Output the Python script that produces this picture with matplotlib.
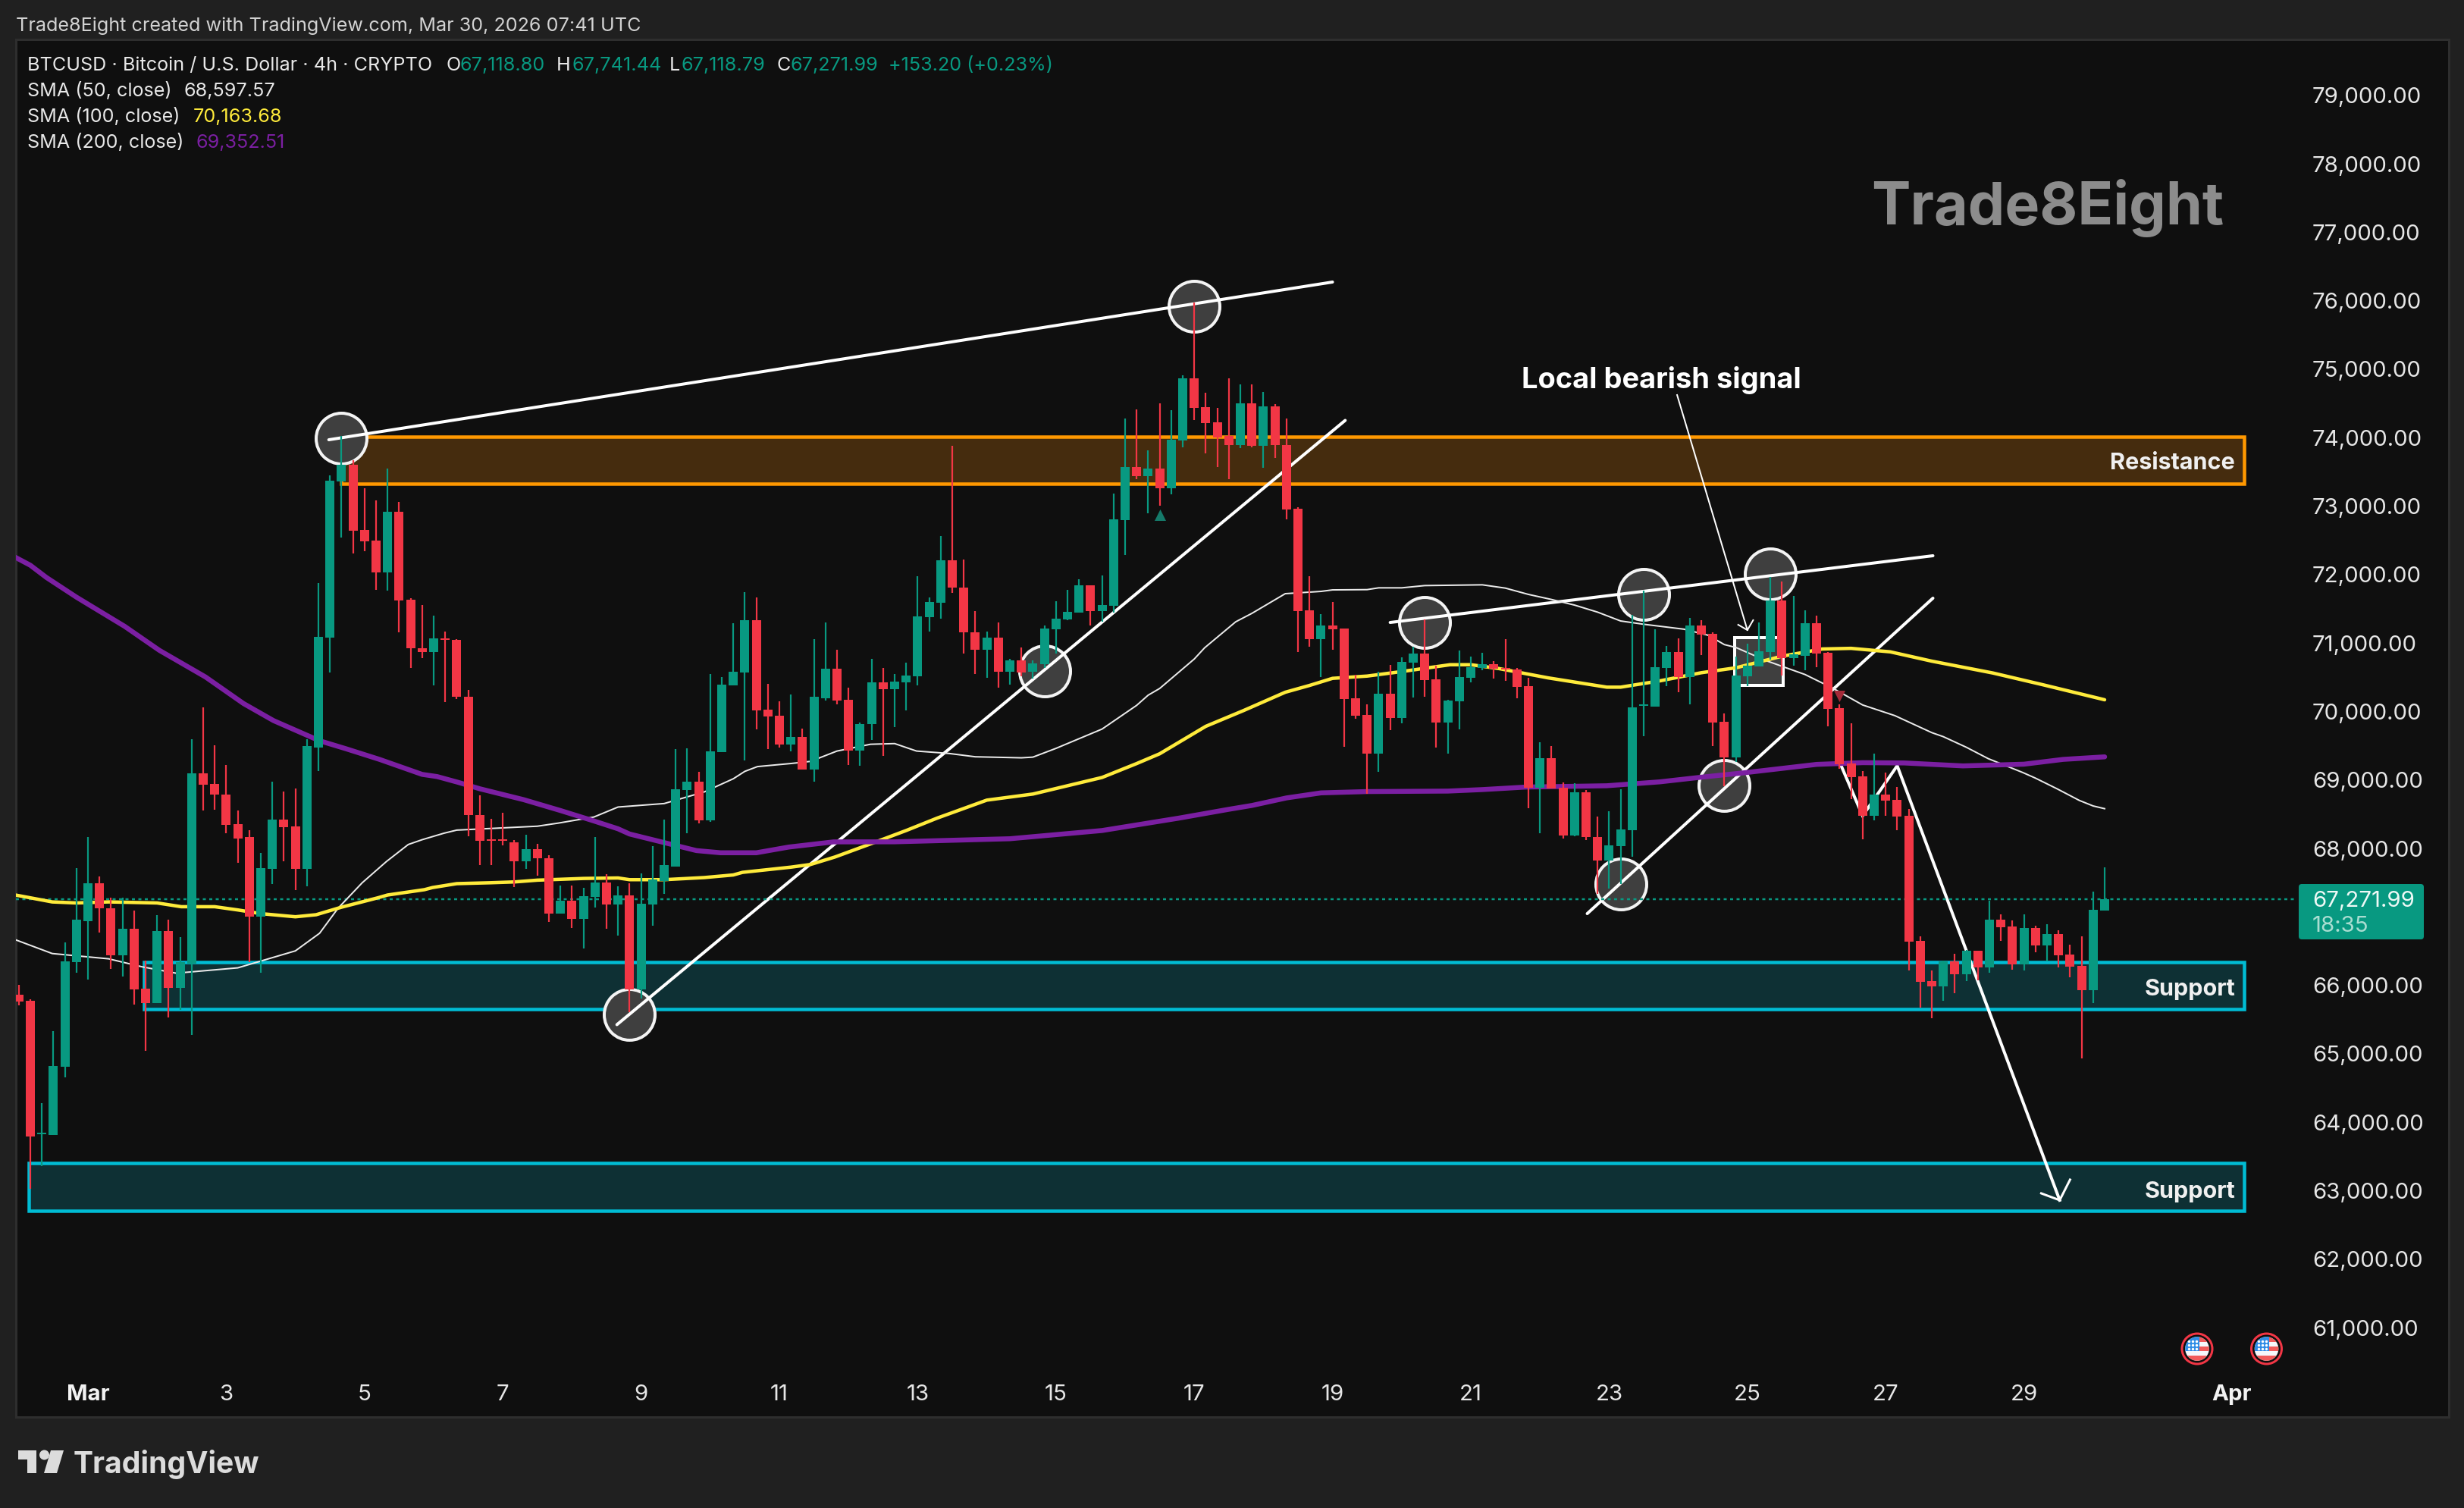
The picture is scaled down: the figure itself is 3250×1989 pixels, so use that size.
import matplotlib
matplotlib.use("Agg")
import matplotlib.pyplot as plt
from matplotlib.patches import Circle, Rectangle, Polygon, FancyBboxPatch
from matplotlib.transforms import Affine2D

# ---------- data ----------
first_index = -6   # first bar, in 4h bars counted from Mar 1 00:00
opens = [65850,65760,63810,63800,64800,66330,
66930,67480,67110,66430,66820,65940,65730,66780,65950,66310,
69090,68930,68780,68340,68150,66990,67690,68410,68310,67690,
69460,71070,73350,73590,72640,72480,72020,72910,71620,70910,
70860,71060,71030,70200,68480,68120,68110,68080,67800,67980,
67840,67040,67230,66960,67280,67490,67170,67300,65930,67170,
67510,67720,68840,68960,68400,69400,70370,70560,71320,70020,
69930,69510,69620,69140,70180,70610,70160,69420,69800,70410,
70310,70410,70500,71370,71580,72200,71800,71140,70890,71070,
70570,70740,70570,70680,71190,71330,71430,71830,71460,71530,
72780,73560,73430,73540,73250,73950,74860,74430,74210,74010,
73880,74490,73870,74450,73880,72950,71470,71050,71240,71200,
70180,69940,69370,70250,69890,70700,70840,70460,69830,70140,
70480,70620,70680,70620,70600,70360,68870,69310,68870,68180,
68810,68160,67810,68020,68250,70070,70060,70620,70860,70490,
71250,71120,69840,69320,70500,70650,70860,71610,70770,70800,
71280,70850,70040,69230,69040,68470,68780,68700,68460,66640,
66050,65970,66340,66150,66490,66250,66950,66850,66290,66830,
66570,66740,66440,66270,65920,67080]
closes = [65750,63780,63830,64810,66340,66950,
67480,67110,66430,66820,65930,65730,66780,65950,66330,69090,
68920,68780,68330,68130,66990,67700,68410,68300,67690,69480,
71080,73360,73590,72630,72470,72020,72910,71610,70910,70860,
71060,71030,70200,68480,68100,68100,68100,67800,67980,67840,
67040,67230,66960,67290,67490,67170,67300,65930,67180,67530,
67740,68850,68960,68400,69410,70380,70570,71320,70000,69920,
69510,69620,69140,70200,70610,70150,69420,69810,70410,70310,
70420,70510,71380,71590,72200,71800,71140,70890,71070,70570,
70740,70560,70690,71200,71340,71440,71830,71460,71540,72800,
73560,73430,73540,73250,73960,74860,74420,74200,73990,73880,
74490,73870,74450,73880,72940,71460,71050,71240,71190,70170,
69930,69370,70250,69890,70710,70840,70450,69830,70150,70490,
70640,70680,70610,70600,70350,68870,69310,68860,68180,68810,
68150,67810,68030,68270,70050,70080,70640,70860,70490,71250,
71110,69830,69320,70510,70660,70870,71610,70770,70820,71280,
70840,70030,69220,69030,68470,68780,68690,68450,66630,66040,
65970,66340,66150,66490,66250,66950,66840,66290,66830,66570,
66740,66430,66260,65920,67090,67250]
highs = [65990,65790,64270,65320,66620,67700,
68150,67580,67270,67270,67080,66350,67010,66950,66690,69580,
70050,69500,69210,68540,68260,67920,68960,68820,68860,69580,
71870,73440,74010,73660,73250,73070,73540,73050,71640,71540,
71390,71160,71050,70300,68760,68420,68510,68110,68190,68050,
67890,67450,67450,67410,68150,67610,67440,67480,67620,68020,
68410,69440,69450,69110,70540,70490,71280,71730,71660,70390,
70140,70240,69740,71050,71290,70890,70340,69830,70760,70630,
70540,70700,71970,71650,72550,73870,72210,71460,71160,71290,
70760,70920,70730,71240,71600,71770,71920,71830,71980,73170,
74270,74400,73800,74490,74390,74900,75960,74650,74420,74850,
74770,74770,74660,74480,74270,72970,71960,71410,71590,71200,
70520,70090,70570,70670,70780,70930,71330,70660,70160,70880,
70790,70850,70720,71050,70620,70480,69540,69480,68950,68940,
68840,68450,68530,68850,71400,71750,71190,70950,71060,71360,
71320,71140,69960,70790,70980,71290,71950,71890,71680,71470,
71390,70860,70090,69820,69120,69370,69100,68890,68570,66700,
66210,66350,66450,66510,66490,67220,67030,66940,67030,66860,
66880,66790,66580,66700,67360,67710]
lows = [65700,63020,63350,63800,64640,66170,
66070,66760,66230,66120,65710,65030,65730,65520,65630,65270,
68540,68550,68210,67780,66330,66170,67470,67800,67380,67430,
69120,70560,72530,72300,72330,71770,71750,71150,70630,70770,
70370,70130,70170,68170,67740,67750,68030,67420,67690,67590,
66910,67040,66830,66530,67120,66810,66720,65600,65800,66860,
67320,67720,68210,68350,68380,69390,70370,69270,69730,69440,
69460,69410,69140,68960,70150,70090,69210,69200,69570,69340,
69760,70000,70370,71160,71350,71720,70830,70540,70480,70340,
70380,70500,70470,70620,70840,71320,71430,71250,71300,71430,
72270,73380,72880,73000,73160,73850,74250,73760,73560,73380,
73840,73850,73550,73690,72800,70860,70930,70490,70890,69470,
69880,68790,69110,69720,69820,70190,70200,69460,69370,69730,
70410,70590,70470,70440,70180,68580,68210,68860,68130,68170,
68110,67320,67400,67470,67870,69630,70060,70360,70270,70090,
70810,69480,68900,69250,70360,70650,70750,70510,70660,70590,
70640,69770,69150,68710,68120,68400,68470,68250,66210,65660,
65510,65760,65870,66050,66060,66170,66640,66220,66210,66470,
66340,66250,66110,64920,65730,67080]

sma50_x = [-6.3,-3.1,1.8,4.7,7.65,13,18,20.1,21.7,23.8,25.9,27.8,29,30.9,32,39,40.8,43.9,46,50,53.5,56,57,58.1,61,62.7,
           65,67.9,70,71.9,74.7,77,81,82,84,88,91,92,93,96,96.9,99.6,101,103.9,107,108,111,112,114,116,121,123,125,127,129,131,133,
           135,138.5,140.6,142,143,145.6,149,151.4,154,156.8,160,161,163,164.9,167.9,169,170.9,172.8,174,175]
sma50_y = [66655,66453,66376,66259,66166,66244,66492,66749,67114,67487,67797,68046,68116,68211,68256,68313,68358,68447,68593,68644,68815,69006,69114,69184,69229,69260,
           69411,69510,69520,69411,69376,69327,69312,69322,69450,69732,70078,70227,70325,70755,70919,71299,71422,71710,71743,71765,71769,71795,71795,71828,71839,71791,71699,71625,71543,71440,71311,
           71263,71191,71102,70966,70924,70733,70529,70330,70084,69928,69680,69621,69466,69300,69097,69015,68857,68690,68609,68569]
sma100_x = [-6.3,-3.1,-1,1.8,6,8.1,11,13,15,18,19.8,22,25.2,26,29.2,29.9,32,34.9,37,39,43,46,47,50,53.5,56,56.8,61,62.7,64.8,68,71,
            73.7,75,78,82,88,91,93,97,100.3,103.9,106,108,111,114,118.2,120,122.4,126.7,131.8,133,136.4,140,143,147,150.5,153,156.4,160,165.3,169.6,175]
sma100_y = [67308,67207,67192,67207,67192,67137,67137,67090,67036,66990,67020,67130,67269,67308,67386,67417,67474,67487,67499,67525,67550,67557,67532,67532,67563,67601,67639,67715,67754,67862,68060,68250,
            68432,68511,68694,68783,69025,69228,69371,69772,70004,70270,70369,70473,70506,70572,70672,70672,70617,70480,70344,70344,70436,70555,70627,70796,70902,70911,70860,70724,70551,70381,70160]
sma200_x = [-6.3,-5,-3.6,-1,3.2,6.2,10.2,13.5,16.1,20.1,22.4,25.3,29,30.3,32.1,34,37.8,41,43.9,46,47,50.5,52.8,54.9,58,60.8,64.7,70,80,88,
            94.7,99,101,104,107,111,118,121,124.8,131.8,136.4,140,143.7,150,154,157.6,162.7,168,171.4,175]
sma200_y = [72241,72125,71946,71659,71231,70882,70493,70105,69856,69561,69444,69289,69070,69038,68955,68860,68701,68542,68390,68275,68199,68053,67957,67925,67925,68008,68084,68085,68130,68250,
            68432,68560,68616,68726,68800,68819,68826,68848,68885,68904,68961,69029,69093,69216,69241,69237,69194,69219,69289,69326]

price_ticks = list(range(61000, 80000, 1000))
price_ticks.remove(67000)
day_ticks = ["Mar", "3", "5", "7", "9", "11", "13", "15", "17", "19", "21", "23", "25", "27", "29", "Apr"]
day_numbers = [1, 3, 5, 7, 9, 11, 13, 15, 17, 19, 21, 23, 25, 27, 29, 32]

resistance_zone = (73316, 74003, 22.0)
support_zone_a = (65645, 66330, 4.9)
support_zone_b = (62695, 63390, -5.1)
zone_end = 187.1

touch_i = [22, 96, 83, 47, 116, 135, 146, 142, 133]
touch_p = [73980, 75908, 70580, 65564, 71289, 71699, 71998, 68903, 67468]
trend_lines = [([20.9, 108], [73958, 76262]),
               ([45.9, 109.1], [65414, 74241]),
               ([113, 160.1], [71289, 72264]),
               ([130.1, 160.1], [67036, 71644])]
path_i = [152, 154, 157, 171.1]
path_p = [69251, 68465, 69196, 62850]
path_head_i = [169.5, 171.1, 172]
path_head_p = [62950, 62850, 63150]
signal_i = [137.9, 144]
signal_p = [74612, 71178]
signal_head_i = [143.2, 144, 144.5]
signal_head_p = [71256, 71178, 71323]
signal_box = (142.9, 147.1, 70370, 71068)
last_price_level = 67250

# ---------- style ----------
W, H = 3250, 1990
BG, PANEL, EDGE = "#202020", "#0f0f0f", "#2e2e2e"
GREEN, RED = "#089981", "#f23645"
ORANGE, CYAN = "#ff9800", "#00bcd4"
FONT = "Inter"
plt.rcParams["font.family"] = [FONT, "DejaVu Sans"]
PT = 72 / 100  # one pixel, in points
TICK_SIZE = 21.2

fig = plt.figure(figsize=(W / 100, H / 100), dpi=100, facecolor=BG)
LEFT, RIGHT, TOP, BOTTOM = 21, 3230, 53, 1870
ax = fig.add_axes([LEFT / W, 1 - BOTTOM / H, (RIGHT - LEFT) / W, (BOTTOM - TOP) / H], facecolor=PANEL)
px = Affine2D().scale(1 / W, -1 / H).translate(0, 1) + fig.transFigure

# bar i sits at 116 + 15.2 i pixels; 1000 dollars span 90.29 pixels with 68000 at y=1119
ax.set_xlim((LEFT - 116) / 15.2, (RIGHT - 116) / 15.2)
ax.set_ylim(68000 - (BOTTOM - 1119) * 11.075, 68000 + (1119 - TOP) * 11.075)

for s in ax.spines.values():
    s.set_color(EDGE)
    s.set_linewidth(3 * PT)

# ticks, drawn inside the panel as TradingView does
ax.yaxis.tick_right()
ax.set_yticks(price_ticks)
ax.set_yticklabels([f"{v:,.2f}" for v in price_ticks], ha="left")
ax.tick_params(axis="y", length=0, pad=-(RIGHT - 3050) * PT, labelsize=TICK_SIZE, labelcolor="#e6e6e6")
ax.set_xticks([(d - 1) * 6 for d in day_numbers])
ax.set_xticklabels(day_ticks)
ax.tick_params(axis="x", length=0, pad=-44 * PT, labelsize=TICK_SIZE, labelcolor="#e6e6e6")
for lab in ax.get_xticklabels():
    if lab.get_text() in ("Mar", "Apr"):
        lab.set_fontweight("bold")
        lab.set_color("#f2f2f2")

# zones
for lo, hi, start, edge, fill, name, name_y in [
        (*resistance_zone, ORANGE, "#452c0e", "Resistance", 619),
        (*support_zone_a, CYAN, "#0e3034", "Support", 1313),
        (*support_zone_b, CYAN, "#0e3034", "Support", 1580)]:
    ax.add_patch(Rectangle((start, lo), zone_end - start, hi - lo, fc=fill, ec=edge, lw=4.5 * PT, zorder=1))
    ax.text(2948, name_y, name, transform=px, ha="right", va="baseline", color="#f0f0f0",
            fontsize=22, fontweight="bold", zorder=8)

# touch circles, box, hand-drawn lines
ax.add_patch(Rectangle((signal_box[0], signal_box[2]), signal_box[1] - signal_box[0], signal_box[3] - signal_box[2],
                       fc="#3f3f3f", ec="white", lw=4 * PT, zorder=2))
ax.scatter(touch_i, touch_p, s=(67 * PT) ** 2, facecolor="#3f3f3f", edgecolor="#f4f4f4",
           linewidths=4 * PT, zorder=2)
for xs, ys in trend_lines:
    ax.plot(xs, ys, color="white", lw=4 * PT, solid_capstyle="round", zorder=3)
ax.plot(path_i, path_p, color="white", lw=4 * PT, solid_joinstyle="miter", zorder=3)
ax.plot(path_head_i, path_head_p, color="white", lw=3 * PT, solid_joinstyle="miter", zorder=3)
ax.plot(signal_i, signal_p, color="white", lw=2 * PT, zorder=3)
ax.plot(signal_head_i, signal_head_p, color="white", lw=2 * PT, zorder=3)
ax.text(2007, 512, "Local bearish signal", transform=px, ha="left", va="baseline", color="white",
        fontsize=27.4, fontweight="bold", zorder=8)

# last price line
ax.plot([ax.get_xlim()[0], (3030 - 116) / 15.2], [last_price_level] * 2, color=GREEN, lw=2.5 * PT,
        ls=(0, (1.6, 1.8)), zorder=3)

# moving averages
ax.plot(sma50_x, sma50_y, color="#eaeaea", lw=2 * PT, zorder=4)
ax.plot(sma100_x, sma100_y, color="#ffeb3b", lw=4.5 * PT, zorder=4, solid_capstyle="round")
ax.plot(sma200_x, sma200_y, color="#7b1fa2", lw=6.5 * PT, zorder=4, solid_capstyle="round")

# candles
idx = [first_index + i for i in range(len(opens))]
colors = [GREEN if c >= o else RED for o, c in zip(opens, closes)]
ax.vlines(idx, lows, highs, colors=colors, lw=2.2 * PT, zorder=5)
ax.bar(idx, [max(abs(c - o), 25) for o, c in zip(opens, closes)],
       bottom=[min(o, c) for o, c in zip(opens, closes)], width=0.79, color=colors, lw=0, zorder=6)

# crossing marks
ax.scatter([93], [72862], marker="^", s=(15 * PT) ** 2, color="#157a6a", linewidths=0, zorder=6)
ax.scatter([152], [70215], marker="v", s=(15 * PT) ** 2, color="#a52a39", linewidths=0, zorder=6)

# watermark
ax.text(2468, 296, "Trade8Eight", transform=px, ha="left", va="baseline", color="#8c8c8c",
        fontsize=55.5, fontweight="bold", zorder=0.5)

# price label
ax.add_patch(FancyBboxPatch((3034, 1169), 161, 69, boxstyle="round,pad=2,rounding_size=4", transform=px,
                            fc=GREEN, ec="none", clip_on=False, zorder=7))
ax.text(3050, 1196, "67,271.99", transform=px, ha="left", va="baseline", color="#eef9f6", fontsize=TICK_SIZE, zorder=8)
ax.text(3050, 1229, "18:35", transform=px, ha="left", va="baseline", color="#a9ddd1", fontsize=TICK_SIZE, zorder=8)

# calendar flags
for cx in (2898, 2989.5):
    cy = 1780
    ax.add_patch(Circle((cx, cy), 20, transform=px, fc="none", ec=RED, lw=3 * PT, zorder=7))
    disc = Circle((cx, cy), 15.8, transform=px, fc="#f5f7fb", ec="none", zorder=7)
    ax.add_patch(disc)
    for y0, h, col, x0, w in [(-16, 6.5, "#f15b5b", 3, 14), (-3.5, 6.5, "#f15b5b", 3, 14),
                              (9, 7, "#f15b5b", -16, 32), (-16, 19, "#2f8ce6", -16, 19)]:
        r = Rectangle((cx + x0, cy + y0), w, h, transform=px, fc=col, ec="none", zorder=7.1)
        ax.add_patch(r)
        r.set_clip_path(disc)
    for dx in (-11, -6, -1):
        for dy in (-10, -5, 0):
            ax.plot([cx + dx], [cy + dy], marker="o", ms=2 * PT, color="white", transform=px, zorder=7.2, clip_on=False)

# header
def label(x, y, s, color="#e8e8e8", size=18.1, weight="normal"):
    fig.text(x, y, s, transform=px, ha="left", va="baseline", color=color, fontsize=size, fontweight=weight)

label(21, 41, "Trade8Eight created with TradingView.com, Mar 30, 2026 07:41 UTC", color="#d2d2d2")
rows = [(36, "BTCUSD · Bitcoin / U.S. Dollar · 4h · CRYPTO", "#e8e8e8"), (588, "O", "#e8e8e8"), (607, "67,118.80", GREEN),
        (734, "H", "#e8e8e8"), (754, "67,741.44", GREEN), (883, "L", "#e8e8e8"), (899, "67,118.79", GREEN),
        (1024, "C", "#e8e8e8"), (1043, "67,271.99", GREEN), (1172, "+153.20 (+0.23%)", GREEN)]
for x, s, c in rows:
    label(x, 93, s, c)
label(36, 127, "SMA (50, close)")
label(243, 127, "68,597.57")
label(36, 161, "SMA (100, close)")
label(255, 161, "70,163.68", "#ffeb3b")
label(36, 195, "SMA (200, close)")
label(258, 195, "69,352.51", "#7b1fa2")

# TradingView logo
LOGO = "#dcdcdc"
fig.add_artist(Polygon([(24, 1914), (48, 1914), (48, 1944), (36, 1944), (36, 1926), (24, 1926)], transform=px, fc=LOGO, ec="none"))
fig.add_artist(Circle((58.5, 1920), 6.5, transform=px, fc=LOGO, ec="none"))
fig.add_artist(Polygon([(67, 1914), (84, 1914), (75, 1944), (58, 1944)], transform=px, fc=LOGO, ec="none"))
fig.text(97, 1943, "TradingView", transform=px, ha="left", va="baseline", color=LOGO, fontsize=28.2, fontweight="bold")

fig.savefig("out.png", dpi=100, facecolor=BG)
